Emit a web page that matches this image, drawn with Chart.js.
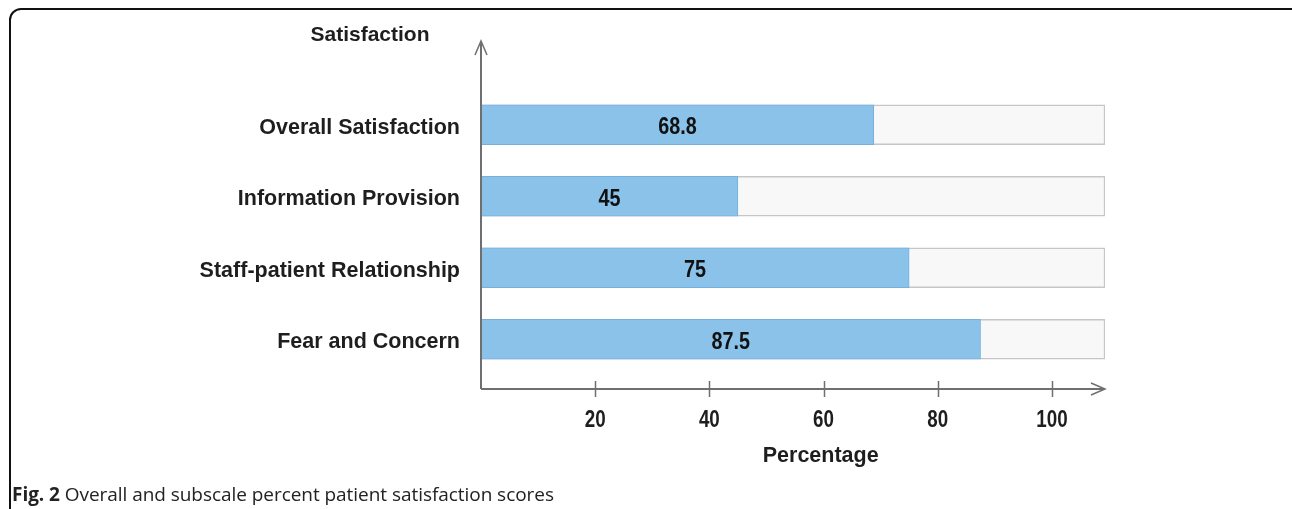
<!DOCTYPE html>
<html>
<head>
<meta charset="utf-8">
<script src="https://cdn.jsdelivr.net/npm/chart.js@4/dist/chart.umd.min.js"></script>
<style>
  html, body { margin: 0; padding: 0; background: #fff; }
  #wrap { position: relative; width: 1292px; height: 509px; overflow: hidden; }
  #frame { position: absolute; left: 9px; top: 8px; width: 1400px; height: 600px;
           border: 2px solid #111; border-radius: 12px; box-sizing: border-box; }
  canvas { position: absolute; left: 0; top: 0; }
  #caption { position: absolute; left: 12px; top: 481px; font-family: "Open Sans", sans-serif;
             font-size: 19px; line-height: 26px; color: #222; white-space: nowrap; letter-spacing: -0.05px; }
  #caption b { font-weight: 700; }
</style>
</head>
<body>
<div id="wrap">
  <div id="frame"></div>
  <canvas id="c" width="1292" height="509"></canvas>
  <div id="caption"><b>Fig. 2</b> Overall and subscale percent patient satisfaction scores</div>
</div>
<script>
const categories = ["Overall Satisfaction", "Information Provision", "Staff-patient Relationship", "Fear and Concern"];
const scores = [68.8, 45, 75, 87.5];
const trackValues = [109.3, 109.3, 109.3, 109.3];
const xTicks = [20, 40, 60, 80, 100];
const yAxisTitle = "Satisfaction";
const xAxisTitle = "Percentage";

const AXIS_COLOR = "#6f6f6f";
const TEXT_COLOR = "#1e1e1e";
const FAMILY = "'Liberation Sans', Arial, sans-serif";

// draw text horizontally condensed (the figure uses a narrow bold face for numbers)
function withCondensedText(ctx, sx, fn) {
  const orig = CanvasRenderingContext2D.prototype.fillText;
  ctx.fillText = function (t, x, y) {
    this.save();
    this.translate(x, y);
    this.scale(sx, 1);
    orig.call(this, t, 0, 0);
    this.restore();
  };
  try { fn(); } finally { delete ctx.fillText; }
}

const decorPlugin = {
  id: 'decor',
  afterDatasetsDraw(chart) {
    const ctx = chart.ctx;
    const xs = chart.scales.x;
    const x0 = xs.getPixelForValue(0);
    const xEnd = xs.getPixelForValue(xs.max);
    const axisY = chart.chartArea.bottom + 14;
    const topY = 41;
    ctx.save();
    ctx.strokeStyle = AXIS_COLOR;
    ctx.lineWidth = 2;
    ctx.lineCap = 'butt';
    // y axis
    ctx.beginPath();
    ctx.moveTo(x0, axisY); ctx.lineTo(x0, topY + 1);
    ctx.stroke();
    ctx.lineWidth = 1.5;
    ctx.beginPath();
    ctx.moveTo(x0 - 6, topY + 14); ctx.lineTo(x0, topY); ctx.lineTo(x0 + 6, topY + 14);
    ctx.stroke();
    // x axis
    ctx.lineWidth = 2;
    ctx.beginPath();
    ctx.moveTo(x0, axisY); ctx.lineTo(xEnd - 1, axisY);
    ctx.stroke();
    ctx.lineWidth = 1.5;
    ctx.beginPath();
    ctx.moveTo(xEnd - 14, axisY - 6); ctx.lineTo(xEnd, axisY); ctx.lineTo(xEnd - 14, axisY + 6);
    ctx.stroke();
    // tick marks crossing the axis
    xTicks.forEach(v => {
      const px = Math.round(xs.getPixelForValue(v)) + 0.5;
      ctx.beginPath();
      ctx.moveTo(px, axisY - 8); ctx.lineTo(px, axisY + 8);
      ctx.stroke();
    });
    // value labels, centred in each bar
    ctx.fillStyle = "#111";
    ctx.font = "bold 23px " + FAMILY;
    ctx.textAlign = 'center';
    ctx.textBaseline = 'middle';
    const meta = chart.getDatasetMeta(1);
    withCondensedText(ctx, 0.86, () => {
      meta.data.forEach((bar, i) => {
        ctx.fillText(String(scores[i]), (x0 + bar.x) / 2, bar.y + 3);
      });
    });
    // axis titles
    ctx.fillStyle = TEXT_COLOR;
    ctx.font = "bold 21px " + FAMILY;
    ctx.fillText(yAxisTitle, 370, 35);
    ctx.font = "bold 21.5px " + FAMILY;
    ctx.fillText(xAxisTitle, xs.getPixelForValue(59.5), 456);
    ctx.restore();
  }
};

new Chart(document.getElementById('c'), {
  type: 'bar',
  data: {
    labels: categories,
    datasets: [
      {
        label: 'track',
        data: trackValues,
        backgroundColor: '#f8f8f8',
        borderColor: '#c6c6c6',
        borderWidth: 1.5,
        borderSkipped: false,
        barThickness: 40,
        grouped: false,
        order: 2
      },
      {
        label: 'score',
        data: scores,
        backgroundColor: '#8bc2ea',
        borderColor: '#74b0de',
        borderWidth: 1,
        borderSkipped: false,
        barThickness: 40,
        grouped: false,
        order: 1
      }
    ]
  },
  options: {
    indexAxis: 'y',
    responsive: false,
    animation: false,
    events: [],
    layout: { padding: { top: 89, right: 187, left: 0, bottom: 0 } },
    plugins: { legend: { display: false }, tooltip: { enabled: false } },
    scales: {
      x: {
        type: 'linear',
        min: 0,
        max: 109.3,
        afterBuildTicks: s => { s.ticks = xTicks.map(v => ({ value: v })); },
        afterFit: s => { s.height = 509 - 375; },
        afterUpdate: s => {
          if (!s._condensedPatch) {
            s._condensedPatch = true;
            const base = Object.getPrototypeOf(s).drawLabels;
            s.drawLabels = function (area) {
              withCondensedText(this.ctx, 0.8, () => base.call(this, area));
            };
          }
        },
        grid: { display: false, drawTicks: false },
        border: { display: false },
        ticks: {
          padding: 31,
          color: TEXT_COLOR,
          font: { family: FAMILY, size: 23.5, weight: 'bold' }
        }
      },
      y: {
        type: 'category',
        afterFit: s => { s.width = 481; },
        grid: { display: false, drawTicks: false },
        border: { display: false },
        ticks: {
          padding: 21,
          labelOffset: 3,
          color: TEXT_COLOR,
          font: { family: FAMILY, size: 21.5, weight: 'bold' }
        }
      }
    }
  },
  plugins: [decorPlugin]
});
</script>
</body>
</html>
